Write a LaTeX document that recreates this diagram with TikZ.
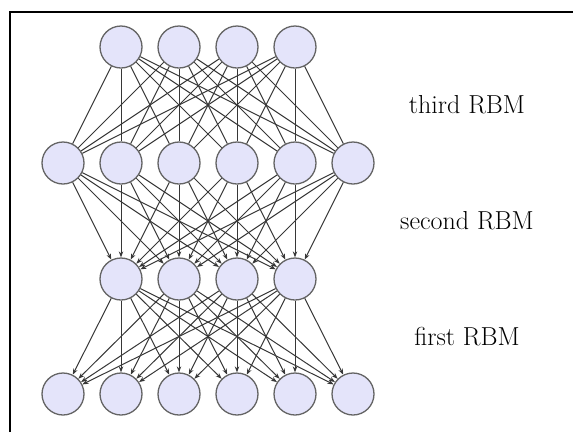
\documentclass[tikz,border=0pt]{standalone}
\usetikzlibrary{arrows.meta}
\definecolor{nodefill}{RGB}{228,228,250}
\definecolor{nodeline}{RGB}{100,100,100}
\definecolor{edgecol}{RGB}{55,55,55}
\begin{document}
\begin{tikzpicture}[x=1pt,y=-1pt,
  unit/.style={circle,draw=nodeline,fill=nodefill,line width=1.3pt,minimum size=42pt,inner sep=0pt},
  link/.style={draw=edgecol,line width=1pt},
  arr/.style={link,-{Stealth[length=6pt,width=4.5pt]}},
  lbl/.style={font=\fontsize{26}{31}\selectfont}]
\useasboundingbox (0,0) rectangle (573,432);
\draw[line width=2.6pt] (10,432) -- (10,12) -- (573,12);
% layers
\foreach \i/\x in {1/121,2/179,3/237,4/295}{
  \node[unit] (d\i) at (\x,47) {};
  \node[unit] (b\i) at (\x,279) {};
}
\foreach \i/\x in {1/63,2/121,3/179,4/237,5/295,6/353}{
  \node[unit] (c\i) at (\x,163) {};
  \node[unit] (a\i) at (\x,394) {};
}
% connections
\foreach \i in {1,...,4}{
  \foreach \j in {1,...,6}{
    \draw[link] (d\i) -- (c\j);
    \draw[arr] (c\j) -- (b\i);
    \draw[arr] (b\i) -- (a\j);
  }
}
\node[lbl] (t3) at (467,105) {third RBM};
\node[lbl] (t2) at (467,221) {second RBM};
\node[lbl] (t1) at (467,337) {first RBM};
\end{tikzpicture}
\end{document}
